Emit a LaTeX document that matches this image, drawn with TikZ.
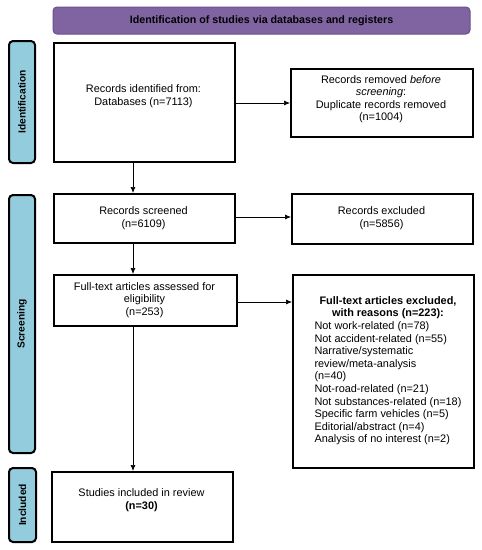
\documentclass[tikz,border=0pt]{standalone}
\usepackage{fontspec}
\setmainfont{Liberation Sans}
\usetikzlibrary{arrows.meta}
\definecolor{hdrfill}{HTML}{8064A2}
\definecolor{hdrdraw}{HTML}{6A4F93}
\definecolor{sidefill}{HTML}{93CDDD}
\begin{document}
\begin{tikzpicture}[x=1pt,y=-1pt,
  box/.style={draw=black,line width=1.8pt,fill=white},
  side/.style={draw=black,line width=2pt,fill=sidefill,rounded corners=4pt},
  hdr/.style={draw=hdrdraw,line width=1pt,fill=hdrfill,rounded corners=4pt},
  txt/.style={font=\fontsize{10.9}{12.4}\selectfont,align=center,inner sep=0pt},
  sidetxt/.style={font=\fontsize{10.2}{11}\selectfont\bfseries,rotate=90,inner sep=0pt},
  arr/.style={-{Latex[length=6pt,width=5pt]},line width=0.7pt}]
\useasboundingbox (0,0) rectangle (482,550);
% header
\draw[hdr] (53,7) rectangle (470,34);
\node[txt,font=\fontsize{10.7}{11}\selectfont\bfseries] (hdrt) at (261.5,21) {Identification of studies via databases and registers};
% side labels
\draw[side] (9,41) rectangle (35,163);
\node[sidetxt] (sid) at (22,102) {Identification};
\draw[side] (9,195) rectangle (35,453);
\node[sidetxt] (ssc) at (22,324) {Screening};
\draw[side] (9,468) rectangle (36,542);
\node[sidetxt] (sin) at (22.5,505) {Included};
% boxes
\node[box,minimum width=181pt,minimum height=119pt,anchor=north west,inner sep=0pt] (ident) at (53,42) {};
\node[txt] (identt) at (143.5,96) {Records identified from:\\Databases (n=7113)};
\node[box,minimum width=182pt,minimum height=68pt,anchor=north west,inner sep=0pt] (rem) at (290,68) {};
\node[txt] (remt) at (381,99) {Records removed \textit{before}\\\textit{screening}:\\Duplicate records removed\\(n=1004)};
\node[box,minimum width=181pt,minimum height=49pt,anchor=north west,inner sep=0pt] (scr) at (53,193) {};
\node[txt] (scrt) at (143.5,218) {Records screened\\(n=6109)};
\node[box,minimum width=181pt,minimum height=50pt,anchor=north west,inner sep=0pt] (exc) at (291,193) {};
\node[txt] (exct) at (381.5,218) {Records excluded\\(n=5856)};
\node[box,minimum width=183pt,minimum height=51pt,anchor=north west,inner sep=0pt] (ft) at (53,274) {};
\node[txt] (ftt) at (144.5,300) {Full-text articles assessed for\\eligibility\\(n=253)};
\node[box,minimum width=181pt,minimum height=193pt,anchor=north west,inner sep=0pt] (ftx) at (292,274) {};
\node[inner sep=0pt,font=\fontsize{10.9}{12.6}\selectfont] (ftxt) at (388,371) {\renewcommand\arraystretch{1.0}\begin{tabular}{@{}l@{}}
\multicolumn{1}{@{}c@{}}{\textbf{Full-text articles excluded,}}\\
\multicolumn{1}{@{}c@{}}{\textbf{with reasons (n=223):}}\\
Not work-related (n=78)\\
Not accident-related (n=55)\\
Narrative/systematic\\
review/meta-analysis\\
(n=40)\\
Not-road-related (n=21)\\
Not substances-related (n=18)\\
Specific farm vehicles (n=5)\\
Editorial/abstract (n=4)\\
Analysis of no interest (n=2)
\end{tabular}};
\node[box,minimum width=181pt,minimum height=70pt,anchor=north west,inner sep=0pt] (inc) at (51,471) {};
\node[txt] (inct) at (141.5,500) {Studies included in review\\\textbf{(n=30)}};
% arrows
\draw[arr] (ident.east |- 0,103) -- (rem.west |- 0,103);
\draw[arr] (scr.east |- 0,217) -- (exc.west |- 0,217);
\draw[arr] (ft.east |- 0,302) -- (ftx.west |- 0,302);
\draw[arr] (133,0 |- ident.south) -- (133,0 |- scr.north);
\draw[arr] (133,0 |- scr.south) -- (133,0 |- ft.north);
\draw[arr] (133,0 |- ft.south) -- (133,0 |- inc.north);
\end{tikzpicture}
\end{document}
